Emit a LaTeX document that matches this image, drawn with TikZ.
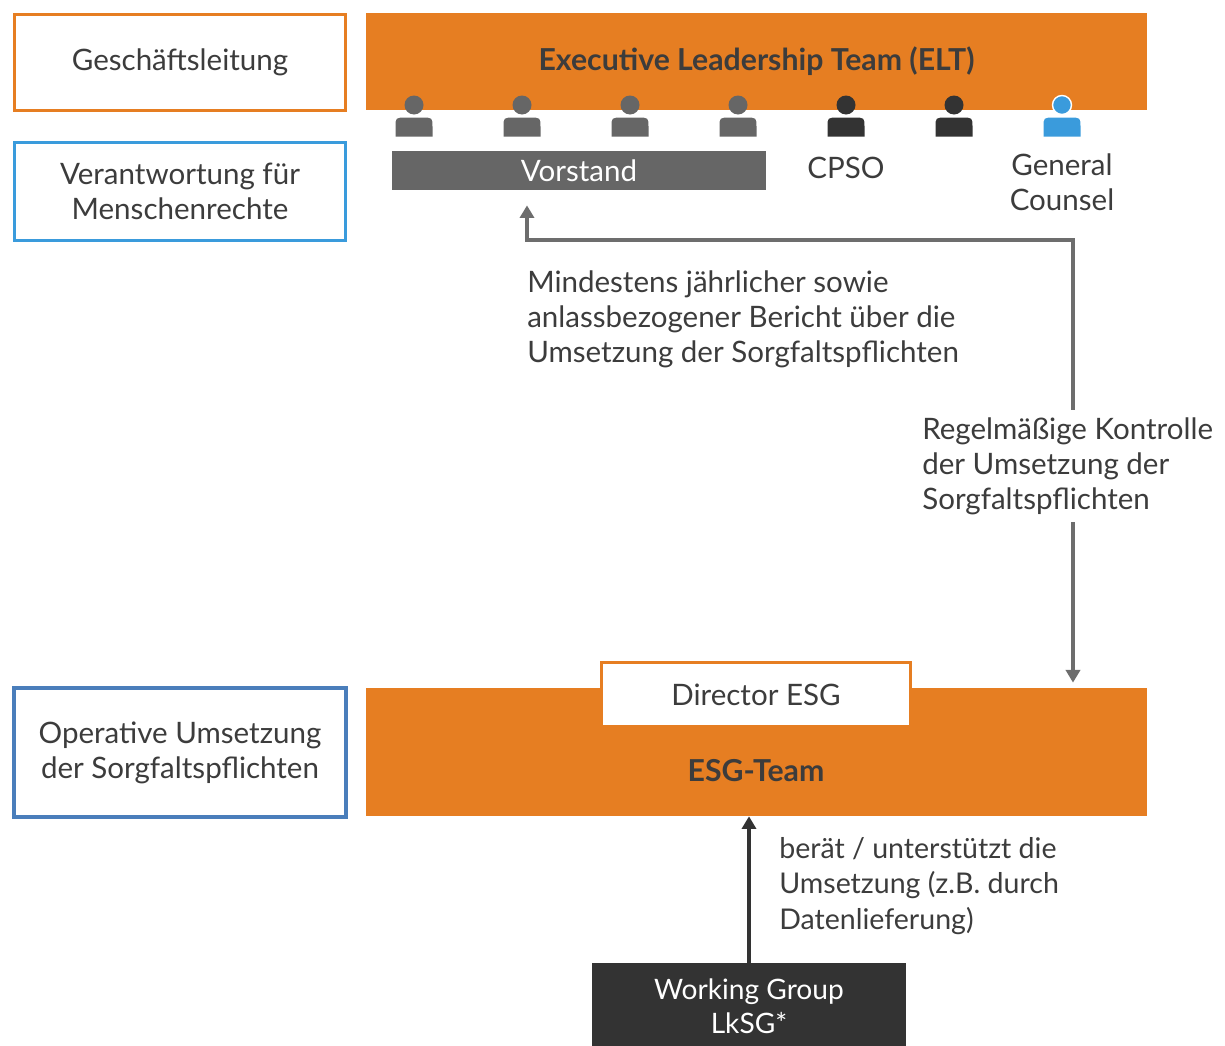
\documentclass[tikz,border=0pt]{standalone}
\usepackage{fontspec}
\setmainfont{Lato}
\usetikzlibrary{positioning,arrows.meta}
\definecolor{eltorange}{HTML}{E67E22}
\definecolor{hrblue}{HTML}{3A9BDC}
\definecolor{opblue}{HTML}{4A7EBB}
\definecolor{txtgray}{HTML}{3C3C3C}
\definecolor{icongray}{HTML}{666666}
\definecolor{wgdark}{HTML}{333333}
\definecolor{linegray}{HTML}{6D6D6D}

\begin{document}
\begin{tikzpicture}[x=0.025cm, y=-0.025cm,
		every node/.style={text=txtgray, font=\fontsize{21}{25}\selectfont},
		title/.style={font=\fontsize{21.5}{25}\selectfont\bfseries},
		rolebox/.style={draw, line width=2.2pt, fill=white, minimum width=8.28cm, minimum height=2.38cm, align=center, inner sep=0pt},
		bar/.style={fill=eltorange, minimum width=19.525cm, inner sep=0pt},
		note/.style={anchor=west, align=left, inner xsep=0pt},
		ctrl/.style={linegray, line width=2.4pt, {Triangle[length=9pt,width=10pt]}-{Triangle[length=9pt,width=10pt]}},
		support/.style={wgdark, line width=2.8pt, -{Triangle[length=9pt,width=10pt]}}]
		\useasboundingbox (0,0) rectangle (1225,1046);

		% left column
		\node[rolebox, draw=eltorange] (gl) at (180,62.5) {Geschäftsleitung};
		\node[rolebox, draw=hrblue, minimum height=2.43cm] (hr) at (180,191.5) {Verantwortung für\\Menschenrechte};
		\node[rolebox, draw=opblue, line width=2.8pt, minimum height=3.22cm] (op) at (180,752.5) {Operative Umsetzung\\der Sorgfaltspflichten};

		% executive leadership team
		\node[bar, minimum height=2.425cm, title] (elt) at (756.5,61.5) {Executive Leadership Team (ELT)};

		% people
		\foreach \px/\pc in {414/icongray, 522/icongray, 630/icongray, 738/icongray, 846/wgdark, 954/wgdark} {
			\fill[\pc] (\px-18.5,136.5) -- (\px-18.5,127) .. controls (\px-18.5,117.5) .. (\px-7,117.5) -- (\px+7,117.5) .. controls (\px+18.5,117.5) .. (\px+18.5,127) -- (\px+18.5,136.5) -- cycle;
			\fill[\pc] (\px,105) circle [radius=9.5];
		}
		% general counsel
		\fill[hrblue] (1043.5,136.5) -- (1043.5,127) .. controls (1043.5,117.5) .. (1055,117.5) -- (1069,117.5) .. controls (1080.5,117.5) .. (1080.5,127) -- (1080.5,136.5) -- cycle;
		\filldraw[fill=hrblue, draw=white, line width=1pt] (1062,105) circle [radius=9.5];

		\node[fill=icongray, text=white, minimum width=9.35cm, minimum height=0.975cm, inner sep=0pt] (vorstand) at (579,170.5) {Vorstand};
		\node (cpso) at (846,168) {CPSO};
		\node[align=center] (gc) at (1062,182) {General\\Counsel};

		% esg team
		\node[bar, minimum height=3.2cm] (esg) at (756.5,752) {};
		\node[fill=white, draw=eltorange, line width=2.2pt, minimum width=7.72cm, minimum height=1.6cm, inner sep=0pt] (dir) at (756,694.5) {Director ESG};
		\node[title] (esgteam) at (756,771) {ESG-Team};

		% working group
		\node[fill=wgdark, text=white, minimum width=7.85cm, minimum height=2.125cm, align=center, inner sep=0pt, font=\fontsize{20}{24.5}\selectfont] (wg) at (749,1006) {Working Group\\LkSG*};

		% reporting and control
		\coordinate (bend) at (1073,240);
		\coordinate (repx) at (527,0);
		\draw[ctrl, shorten <=3.6pt, shorten >=10.7pt] (esg.north -| bend) -- (bend) -| (vorstand.south -| repx);
		\node[note] (bericht) at (527,319) {Mindestens jährlicher sowie\\anlassbezogener Bericht über die\\Umsetzung der Sorgfaltspflichten};
		\node[note, fill=white, inner ysep=5pt] (kontrolle) at (922,466) {Regelmäßige Kontrolle\\der Umsetzung der\\Sorgfaltspflichten};

		% support
		\draw[support] (wg.north) -- (esg.south -| wg.north);
		\node[note, font=\fontsize{20.3}{25}\selectfont] (beraet) at (779,886) {berät / unterstützt die\\Umsetzung (z.B. durch\\Datenlieferung)};
	\end{tikzpicture}
\end{document}
